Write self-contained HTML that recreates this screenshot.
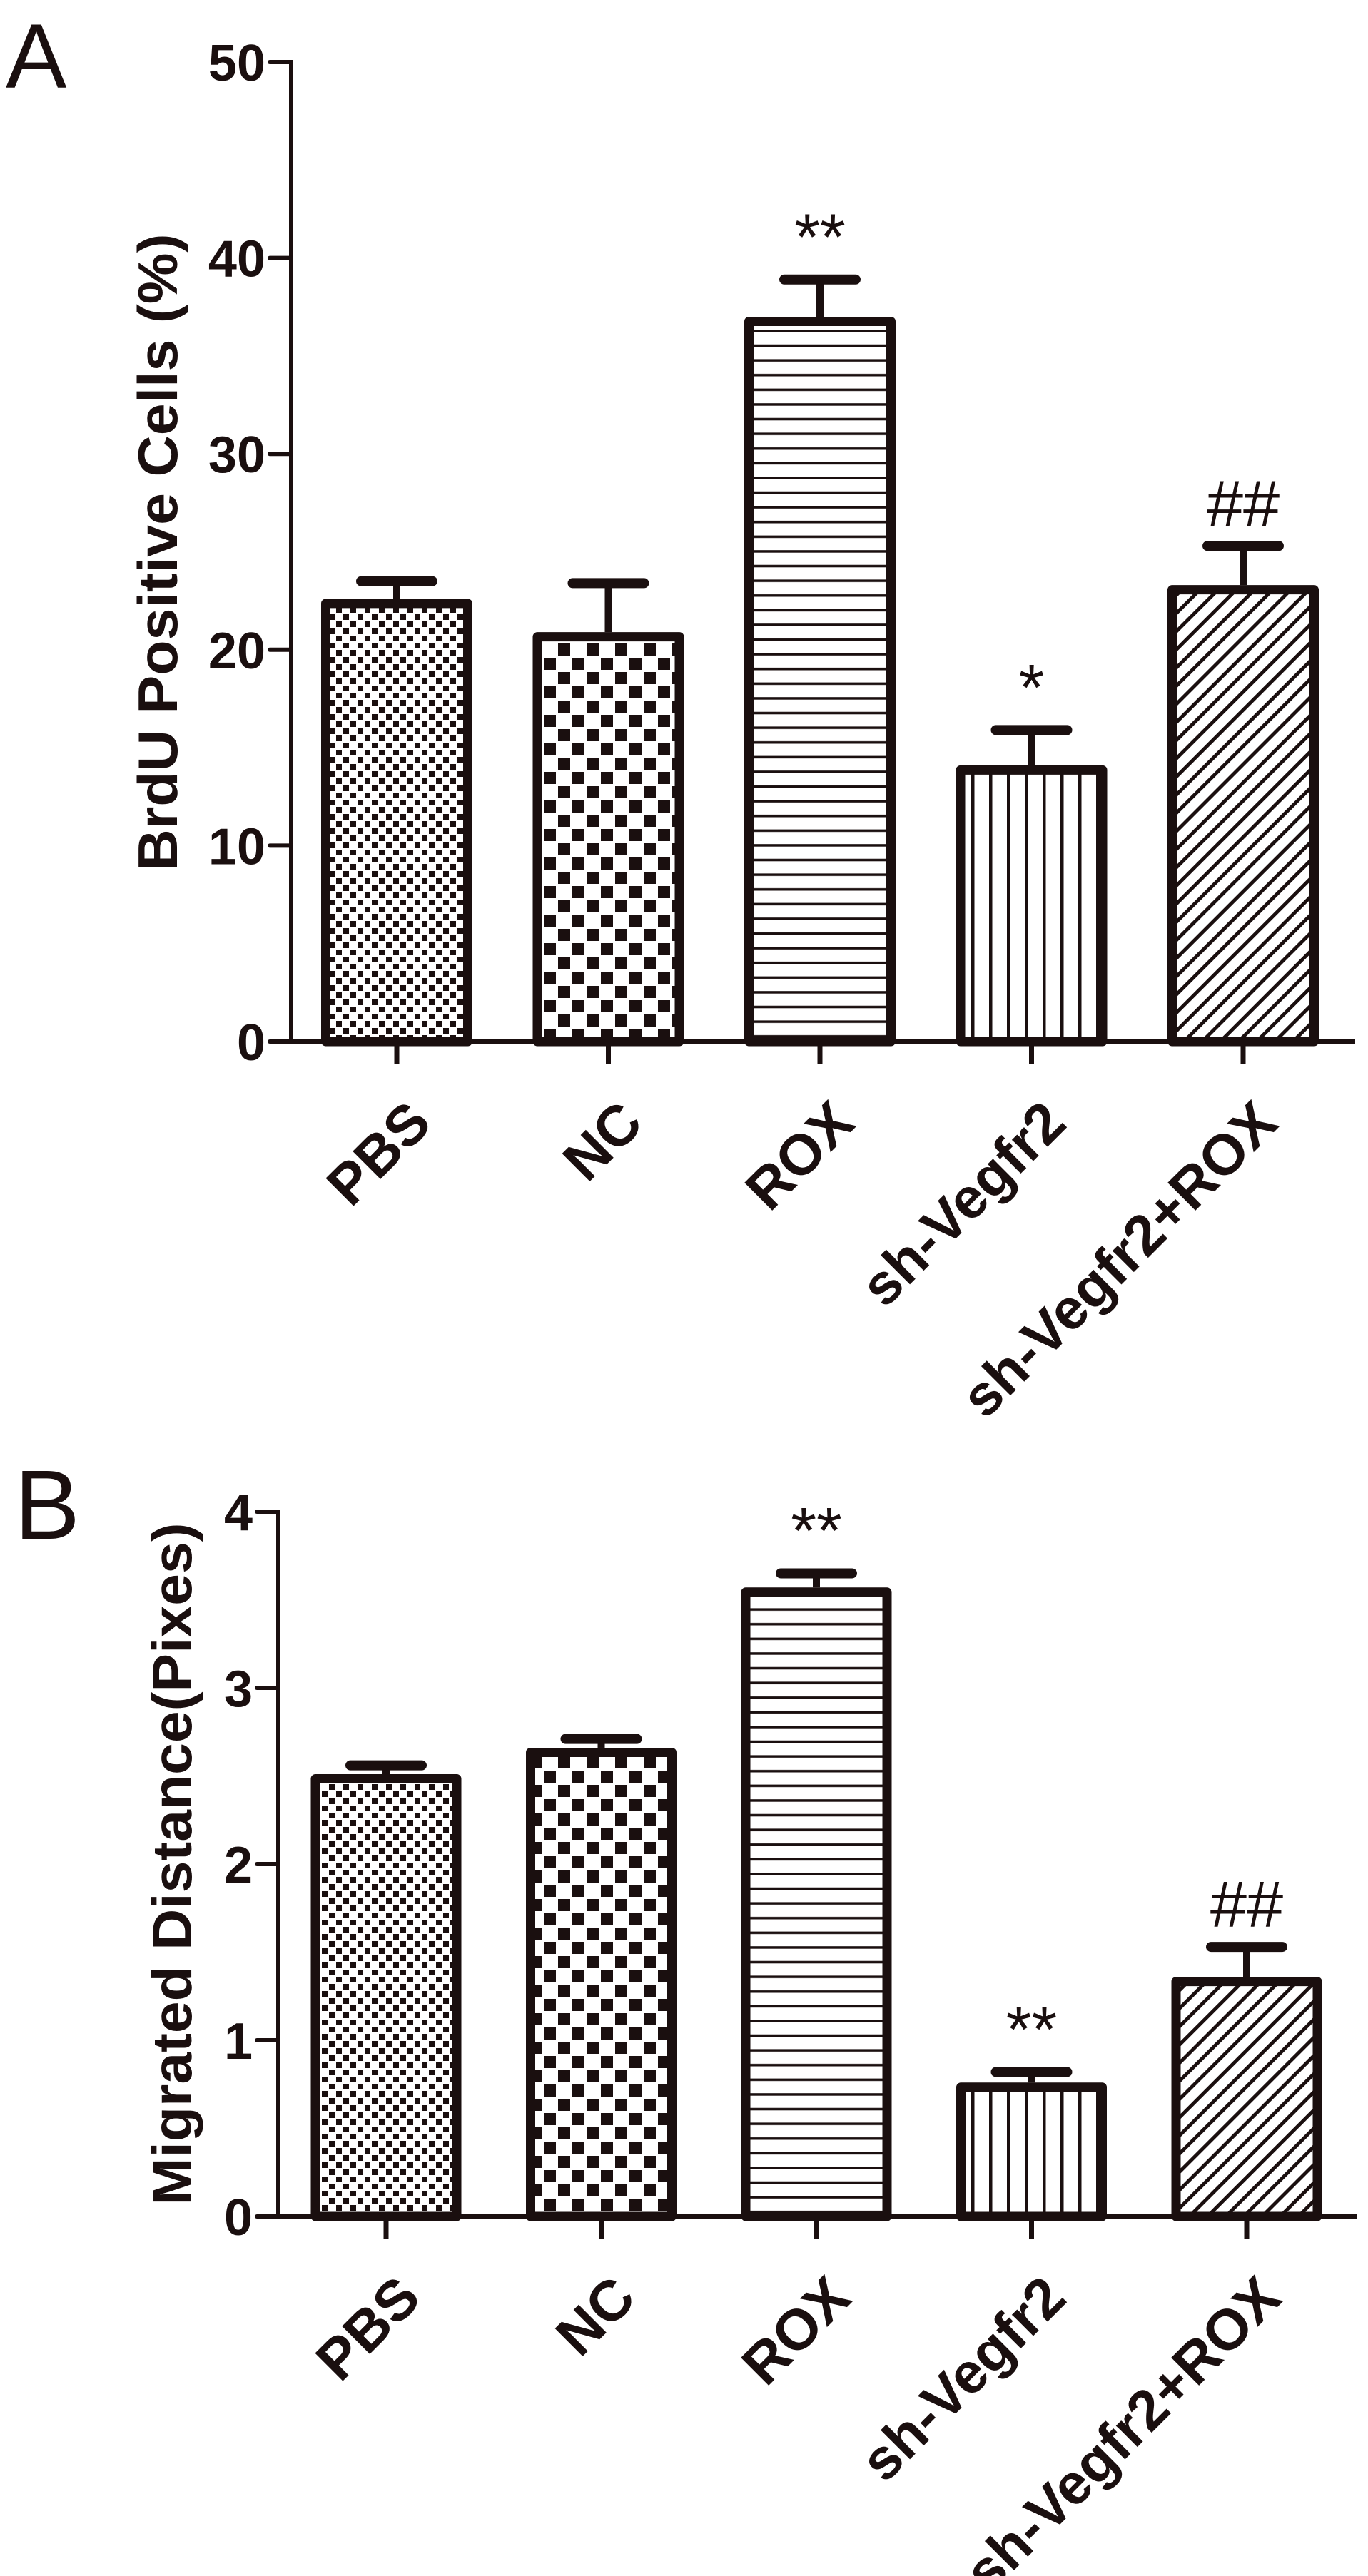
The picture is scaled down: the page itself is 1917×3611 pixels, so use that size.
<!DOCTYPE html>
<html><head><meta charset="utf-8"><style>
html,body{margin:0;padding:0;background:#fff;}
svg{display:block;}
text{font-family:"Liberation Sans",Arial,sans-serif;fill:#1a0f0f;}
</style></head><body>
<svg id="fig" width="1917" height="3611" viewBox="0 0 1917 3611" xmlns="http://www.w3.org/2000/svg">
<defs>
<pattern id="p0" patternUnits="userSpaceOnUse" width="20" height="20"><rect width="20" height="20" fill="#fff"/><rect x="1" y="1" width="8" height="8" fill="#1a0f0f"/><rect x="11" y="11" width="8" height="8" fill="#1a0f0f"/></pattern>
<pattern id="p1" patternUnits="userSpaceOnUse" width="40" height="40"><rect width="40" height="40" fill="#fff"/><rect x="2" y="2" width="17" height="17" fill="#1a0f0f"/><rect x="22" y="22" width="17" height="17" fill="#1a0f0f"/></pattern>
<pattern id="p2" patternUnits="userSpaceOnUse" width="20" height="20.6"><rect width="20" height="20.6" fill="#fff"/><rect y="9" width="20" height="3.5" fill="#1a0f0f"/></pattern>
<pattern id="p3" patternUnits="userSpaceOnUse" width="25" height="20"><rect width="25" height="20" fill="#fff"/><rect x="11" width="4.5" height="20" fill="#1a0f0f"/></pattern>
<pattern id="p4" patternUnits="userSpaceOnUse" width="18" height="18" patternTransform="rotate(45)"><rect width="18" height="18" fill="#fff"/><rect x="7" width="5" height="18" fill="#1a0f0f"/></pattern>
</defs>
<text x="8" y="123" font-size="128">A</text>
<text x="20" y="2157" font-size="138">B</text>
<g id="chartA"></g>
<g id="chartB"></g>
</svg>
<script>
const categories = ["PBS","NC","ROX","sh-Vegfr2","sh-Vegfr2+ROX"];
const valuesA = [22.6, 20.9, 37.0, 14.1, 23.3];
const errorsA = [0.9, 2.5, 1.9, 1.8, 2.0];
const marksA = ["", "", "**", "*", "##"];
const ticksA = [0, 10, 20, 30, 40, 50];
const valuesB = [2.51, 2.66, 3.57, 0.76, 1.36];
const errorsB = [0.05, 0.05, 0.08, 0.06, 0.17];
const marksB = ["", "", "**", "**", "##"];
const ticksB = [0, 1, 2, 3, 4];

const NS = "http://www.w3.org/2000/svg";
const INK = "#1a0f0f";
function mk(parent, tag, attrs, txt){
  const e = document.createElementNS(NS, tag);
  for (const k in attrs) e.setAttribute(k, attrs[k]);
  if (txt !== undefined) e.textContent = txt;
  parent.appendChild(e);
  return e;
}
function drawChart(g, cfg, values, errors, marks, ticks){
  const y = v => cfg.y0 - (v - cfg.vmin) / (cfg.vmax - cfg.vmin) * (cfg.y0 - cfg.yTop);
  const x = i => cfg.x0 + i * cfg.step;
  const ya = mk(g, "line", {x1:cfg.ax, y1:y(cfg.vmax)-3, x2:cfg.ax, y2:cfg.y0, stroke:INK, "stroke-width":6});
  
  
  ticks.forEach(t => {
    const tl = mk(g, "line", {x1:cfg.ax-30, y1:y(t), x2:cfg.ax, y2:y(t), stroke:INK, "stroke-width":6, "stroke-linecap":"round"});
    
    
    const tx = mk(g, "text", {x:cfg.ax-36, y:y(t)+26, "font-size":72, "font-weight":"bold", "text-anchor":"end"}, String(t));
    
    
  });
  const title = mk(g, "text", {x:0, y:0, "font-size":78, "font-weight":"bold", "text-anchor":"middle",
     textLength:cfg.titleLen, lengthAdjust:"spacingAndGlyphs",
     transform:`translate(${cfg.titleX},${cfg.titleY}) rotate(-90)`}, cfg.title);
  
  
  values.forEach((v, i) => {
    const cx = x(i), bw = cfg.bw, sw = 13;
    const top = y(v), cap = y(v + errors[i]);
    const st = mk(g, "line", {x1:cx, y1:cap, x2:cx, y2:top, stroke:INK, "stroke-width":10});
    
    
    const cp = mk(g, "line", {x1:cx-50, y1:cap, x2:cx+50, y2:cap, stroke:INK, "stroke-width":14, "stroke-linecap":"round"});
    
    
    const r = mk(g, "rect", {x:cx-bw/2+sw/2, y:top+sw/2, width:bw-sw, height:cfg.y0-top-sw/2, fill:`url(#p${i})`, stroke:INK, "stroke-width":sw, "stroke-linejoin":"round"});
    
    
    if (marks[i]) {
      const m = mk(g, "text", {x:cx, y:cap-28, "font-size":92, "text-anchor":"middle", fill: marks[i][0]==="#" ? "#0f2a1c" : INK}, marks[i]);
      
      
    }
    const xt = mk(g, "line", {x1:cx, y1:cfg.y0, x2:cx, y2:cfg.y0+32, stroke:INK, "stroke-width":7});
    
    
    const lx = cx + 52, ly = cfg.y0 + 118;
    const lab = mk(g, "text", {x:lx, y:ly, "font-size":80, "font-weight":"bold", "text-anchor":"end", transform:`rotate(-45 ${lx} ${ly})`}, categories[i]);
    
    
  });
  const xa = mk(g, "line", {x1:cfg.ax-30, y1:cfg.y0, x2:cfg.xEnd, y2:cfg.y0, stroke:INK, "stroke-width":7});
  
  
}
drawChart(document.getElementById("chartA"),
  {ax:408, y0:1460, yTop:87, vmin:0, vmax:50, x0:556, step:296.5, bw:212, xEnd:1899,
   title:"BrdU Positive Cells (%)", titleX:248, titleY:774, titleLen:893},
  valuesA, errorsA, marksA, ticksA);
drawChart(document.getElementById("chartB"),
  {ax:390, y0:3107, yTop:2119, vmin:0, vmax:4, x0:541, step:301.5, bw:211, xEnd:1902,
   title:"Migrated Distance(Pixes)", titleX:268, titleY:2613, titleLen:957},
  valuesB, errorsB, marksB, ticksB);
</script>
</body></html>
